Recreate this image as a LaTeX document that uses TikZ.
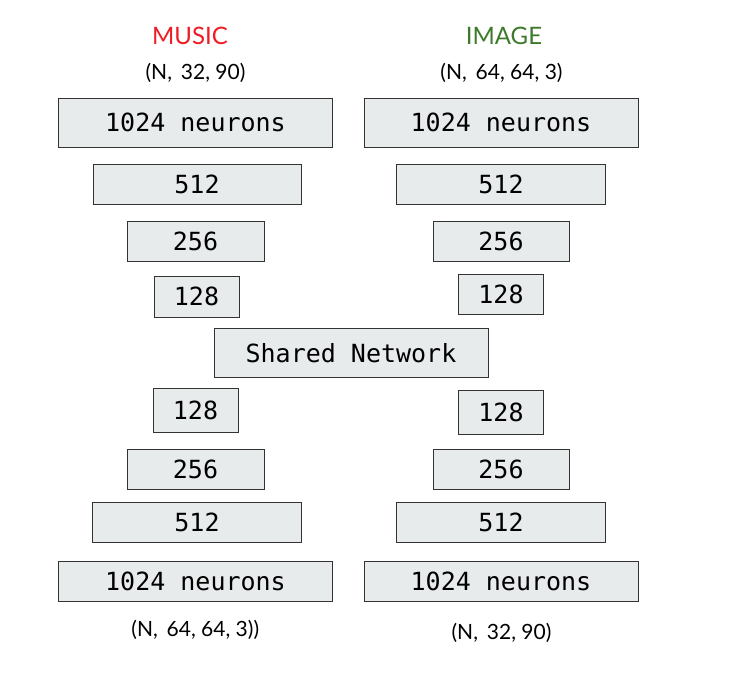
\documentclass[tikz,border=0pt]{standalone}
\usepackage{fontspec}
\setmainfont{Lato}
\setmonofont{DejaVu Sans Mono}
\usepackage{tikz}
\definecolor{musicred}{HTML}{EE1C25}
\definecolor{imagegreen}{HTML}{3D7A2B}
\definecolor{layerfill}{HTML}{E8EBEC}
\definecolor{layerline}{HTML}{333333}

\begin{document}
\begin{tikzpicture}[x=1pt, y=-1pt,
		layer/.style={draw=layerline, fill=layerfill, line width=1pt, inner sep=0pt,
			font=\fontsize{25}{25}\selectfont\ttfamily},
		shape label/.style={font=\fontsize{21}{21}\selectfont}]
	\useasboundingbox (0,0) rectangle (734,680);
	
	% Titles
	\node[text=musicred, font=\fontsize{24}{24}\selectfont] (music) at (190, 35.5) {MUSIC};
	\node[text=imagegreen, font=\fontsize{24}{24}\selectfont] (image) at (504, 35.5) {IMAGE};
	
	% Input shapes
	\node[shape label] (musicin) at (195.5, 73) {(N,\, 32, 90)};
	\node[shape label] (imagein) at (501.5, 72.5) {(N,\, 64, 64, 3)};
	
	% Music encoder
	\node[layer, minimum width=274.5, minimum height=49] (me1024) at (195.5, 122.8) {1024 neurons};
	\node[layer, minimum width=208, minimum height=40] (me512) at (197, 184) {512};
	\node[layer, minimum width=137, minimum height=40] (me256) at (195.5, 241) {256};
	\node[layer, minimum width=85, minimum height=41] (me128) at (196.5, 296.5) {128};
	
	% Image encoder
	\node[layer, minimum width=274, minimum height=49] (ie1024) at (501, 122.8) {1024 neurons};
	\node[layer, minimum width=209, minimum height=40] (ie512) at (501, 184) {512};
	\node[layer, minimum width=136, minimum height=40] (ie256) at (501, 241) {256};
	\node[layer, minimum width=85, minimum height=40] (ie128) at (501, 294) {128};
	
	% Shared part
	\node[layer, minimum width=274, minimum height=49] (shared) at (351, 352.8) {Shared Network};
	
	% Music decoder
	\node[layer, minimum width=85, minimum height=44] (md128) at (195.5, 410.5) {128};
	\node[layer, minimum width=137, minimum height=40] (md256) at (195.5, 469) {256};
	\node[layer, minimum width=208.6, minimum height=40] (md512) at (197, 522.3) {512};
	\node[layer, minimum width=274.5, minimum height=40] (md1024) at (195.5, 581) {1024 neurons};
	
	% Image decoder
	\node[layer, minimum width=85, minimum height=43.6] (id128) at (501, 412.5) {128};
	\node[layer, minimum width=136, minimum height=40] (id256) at (501, 469) {256};
	\node[layer, minimum width=209, minimum height=40] (id512) at (501, 522.3) {512};
	\node[layer, minimum width=274, minimum height=40] (id1024) at (501, 581) {1024 neurons};
	
	% Output shapes
	\node[shape label] (musicout) at (195.3, 629.5) {(N,\, 64, 64, 3))};
	\node[shape label] (imageout) at (501.5, 632.7) {(N,\, 32, 90)};
\end{tikzpicture}
\end{document}
